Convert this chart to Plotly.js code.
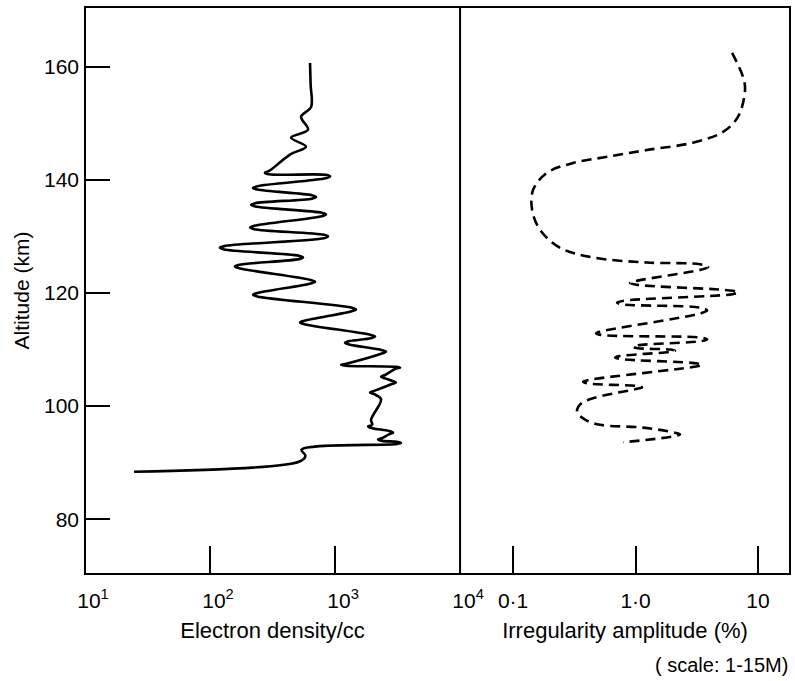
<!DOCTYPE html>
<html>
<head>
<meta charset="utf-8">
<script src="https://cdn.plot.ly/plotly-3.0.1.min.js"></script>
<style>
  html, body { margin: 0; padding: 0; background: #ffffff; }
  #chart { width: 795px; height: 681px; }
</style>
</head>
<body>
<div id="chart"></div>
<script>
// Electron density profile (left panel) from top to bottom
const densityAltitude = [160.7, 156.8, 152.9, 151.2, 148.9, 147.5, 145.9, 144.5,
  141.6, 141.3, 141.0,   140.9, 140.6, 140.3,
  138.9, 138.6, 138.3,   137.3, 137.0, 136.7,
  135.9, 135.6, 135.3,   134.2, 133.9, 133.6,
  131.9, 131.6, 131.3,   130.3, 130.0, 129.7,
  128.3, 128.0, 127.7,   126.6, 126.3, 126.0,
  125.0, 124.7, 124.4,   122.3, 122.0, 121.7,
  120.0, 119.7, 119.4,   117.4, 117.1, 116.8,
  115.1, 114.8, 114.5,   112.6, 112.3, 112.0,
  111.5, 111.2, 110.9,   109.9, 109.6, 109.3,
  107.45, 107.3, 107.15, 106.95, 106.8, 106.65,
  105.5, 105.2, 104.9,   104.5, 104.2, 103.9,
  102.7, 102.4, 102.1,   101.2, 97.6,
  96.7, 96.4, 96.1,      95.6, 95.3, 95.0,
  94.35, 94.1, 93.85,    93.7, 93.5, 93.3,
  92.3, 91.2, 90.2, 88.4];
const electronDensity = [631, 638, 643, 535, 608, 445, 586, 436,
  297, 275, 297,   844, 912, 844,
  239, 221, 239,   653, 705, 653,
  230, 213, 230,   784, 847, 784,
  226, 209, 226,   814, 879, 814,
  130, 120, 130,   514, 555, 514,
  171, 158, 171,   641, 692, 641,
  239, 221, 239,   1363, 1472, 1363,
  567, 525, 567,   1934, 2089, 1934,
  1298, 1202, 1298, 2369, 2559, 2369,
  1206, 1117, 1206, 3066, 3311, 3066,
  2519, 2333, 2519, 2848, 3076, 2848,
  2057, 1905, 2057, 2333, 1941,
  1984, 1837, 1984, 2695, 2911, 2695,
  2385, 2208, 2385, 3123, 3373, 3123,
  540, 580, 520, 24.7];

// Irregularity amplitude profile (right panel) from top to bottom
const amplitudeAltitude = [162.5, 158.2, 155.9, 151.2, 148.5, 146.6, 145.3, 144.1, 143.0, 141.3,
  138.3, 134.7, 131.2, 128.0, 126.3, 125.4,
  125.1, 124.6, 124.1,
  122.1, 121.8, 121.5,
  120.4, 120.1, 119.8,
  118.6, 118.3, 118.0,
  117.4, 116.9, 116.4,
  113.2, 112.9, 112.6,
  112.1, 111.8, 111.5,
  110.75, 110.5, 110.25,
  110.0, 109.8, 109.6,
  108.85, 108.6, 108.35,
  107.55, 107.3, 107.05,
  104.6, 104.3, 104.0,
  103.55, 103.3, 103.05,
  100.6, 99.0, 97.6, 96.7, 96.2,
  95.3, 95.0, 94.7,
  93.6];
const irregularityAmplitude = [6.14, 7.55, 7.83, 6.87, 5.18, 2.94, 1.24, 0.585, 0.309, 0.190,
  0.146, 0.143, 0.166, 0.242, 0.450, 1.24,
  3.36, 3.91, 3.36,
  0.99, 0.90, 0.99,
  6.2, 6.87, 6.2,
  0.78, 0.706, 0.78,
  3.4, 3.84, 3.4,
  0.52, 0.477, 0.52,
  3.47, 3.84, 3.47,
  1.04, 0.955, 1.04,
  1.93, 2.10, 1.93,
  0.74, 0.681, 0.74,
  3.2, 3.49, 3.2,
  0.41, 0.373, 0.41,
  1.03, 1.13, 1.03,
  0.366, 0.333, 0.387, 0.513, 1.15,
  2.1, 2.31, 2.1,
  0.791];

// Tick values and labels
const altitudeTicks = [80, 100, 120, 140, 160];
const densityTicks = [10, 100, 1000, 10000];
const densityTickText = ['10<sup>1</sup>', '10<sup>2</sup>', '10<sup>3</sup>', '10<sup>4</sup>'];
const amplitudeTicks = [0.1, 1, 10];
const amplitudeTickText = ['0·1', '1·0', '10'];

const FONT = 'Liberation Sans, Arial, sans-serif';
const split = 0.532;

const traces = [
  {
    x: electronDensity, y: densityAltitude, xaxis: 'x', yaxis: 'y',
    mode: 'lines', type: 'scatter',
    line: { color: '#000', width: 2.6, shape: 'spline', smoothing: 1.0 },
    hoverinfo: 'none', showlegend: false
  },
  {
    x: irregularityAmplitude, y: amplitudeAltitude, xaxis: 'x2', yaxis: 'y',
    mode: 'lines', type: 'scatter',
    line: { color: '#000', width: 2.6, shape: 'spline', smoothing: 1.0, dash: '10px,6px' },
    hoverinfo: 'none', showlegend: false
  }
];

const layout = {
  width: 795, height: 681,
  margin: { l: 85, r: 5, t: 7, b: 107 },
  paper_bgcolor: '#fff', plot_bgcolor: '#fff',
  font: { family: FONT, color: '#000', size: 19 },
  showlegend: false,
  xaxis: {
    type: 'log', domain: [0, split], range: [1, 4], anchor: 'y',
    tickvals: densityTicks, ticktext: densityTickText,
    ticks: 'inside', ticklen: 28, tickwidth: 2, tickcolor: '#000',
    tickfont: { size: 21, family: FONT }, ticklabelshift: 8, ticklabelstandoff: 12,
    showgrid: false, zeroline: false, showline: false,
    title: { text: 'Electron density/cc', font: { size: 22, family: FONT }, standoff: 11 }
  },
  xaxis2: {
    type: 'log', domain: [split, 1], range: [-1.433, 1.261], anchor: 'y',
    tickvals: amplitudeTicks, ticktext: amplitudeTickText,
    ticks: 'inside', ticklen: 28, tickwidth: 2, tickcolor: '#000',
    tickfont: { size: 21, family: FONT }, ticklabelstandoff: 12,
    showgrid: false, zeroline: false, showline: false,
    title: { text: 'Irregularity amplitude (%)', font: { size: 22, family: FONT }, standoff: 11 }
  },
  yaxis: {
    range: [70.3, 170.6], anchor: 'x',
    tickvals: altitudeTicks,
    ticks: 'inside', ticklen: 25, tickwidth: 2, tickcolor: '#000',
    tickfont: { size: 21, family: FONT }, ticklabelstandoff: 5,
    showgrid: false, zeroline: false, showline: false,
    title: { text: 'Altitude (km)', font: { size: 21, family: FONT }, standoff: 8 }
  },
  shapes: [
    { type: 'rect', xref: 'paper', yref: 'paper', x0: 0, x1: 1, y0: 0, y1: 1,
      line: { color: '#000', width: 2 } },
    { type: 'line', xref: 'paper', yref: 'paper', x0: split, x1: split, y0: 0, y1: 1,
      line: { color: '#000', width: 2 } }
  ],
  annotations: [
    { xref: 'paper', yref: 'paper', x: 1, y: 0, yshift: -91, xanchor: 'right', yanchor: 'middle',
      text: '( scale: 1-15M)', showarrow: false, font: { size: 20, family: FONT } }
  ]
};

Plotly.newPlot('chart', traces, layout, { staticPlot: true, displayModeBar: false });
</script>
</body>
</html>
